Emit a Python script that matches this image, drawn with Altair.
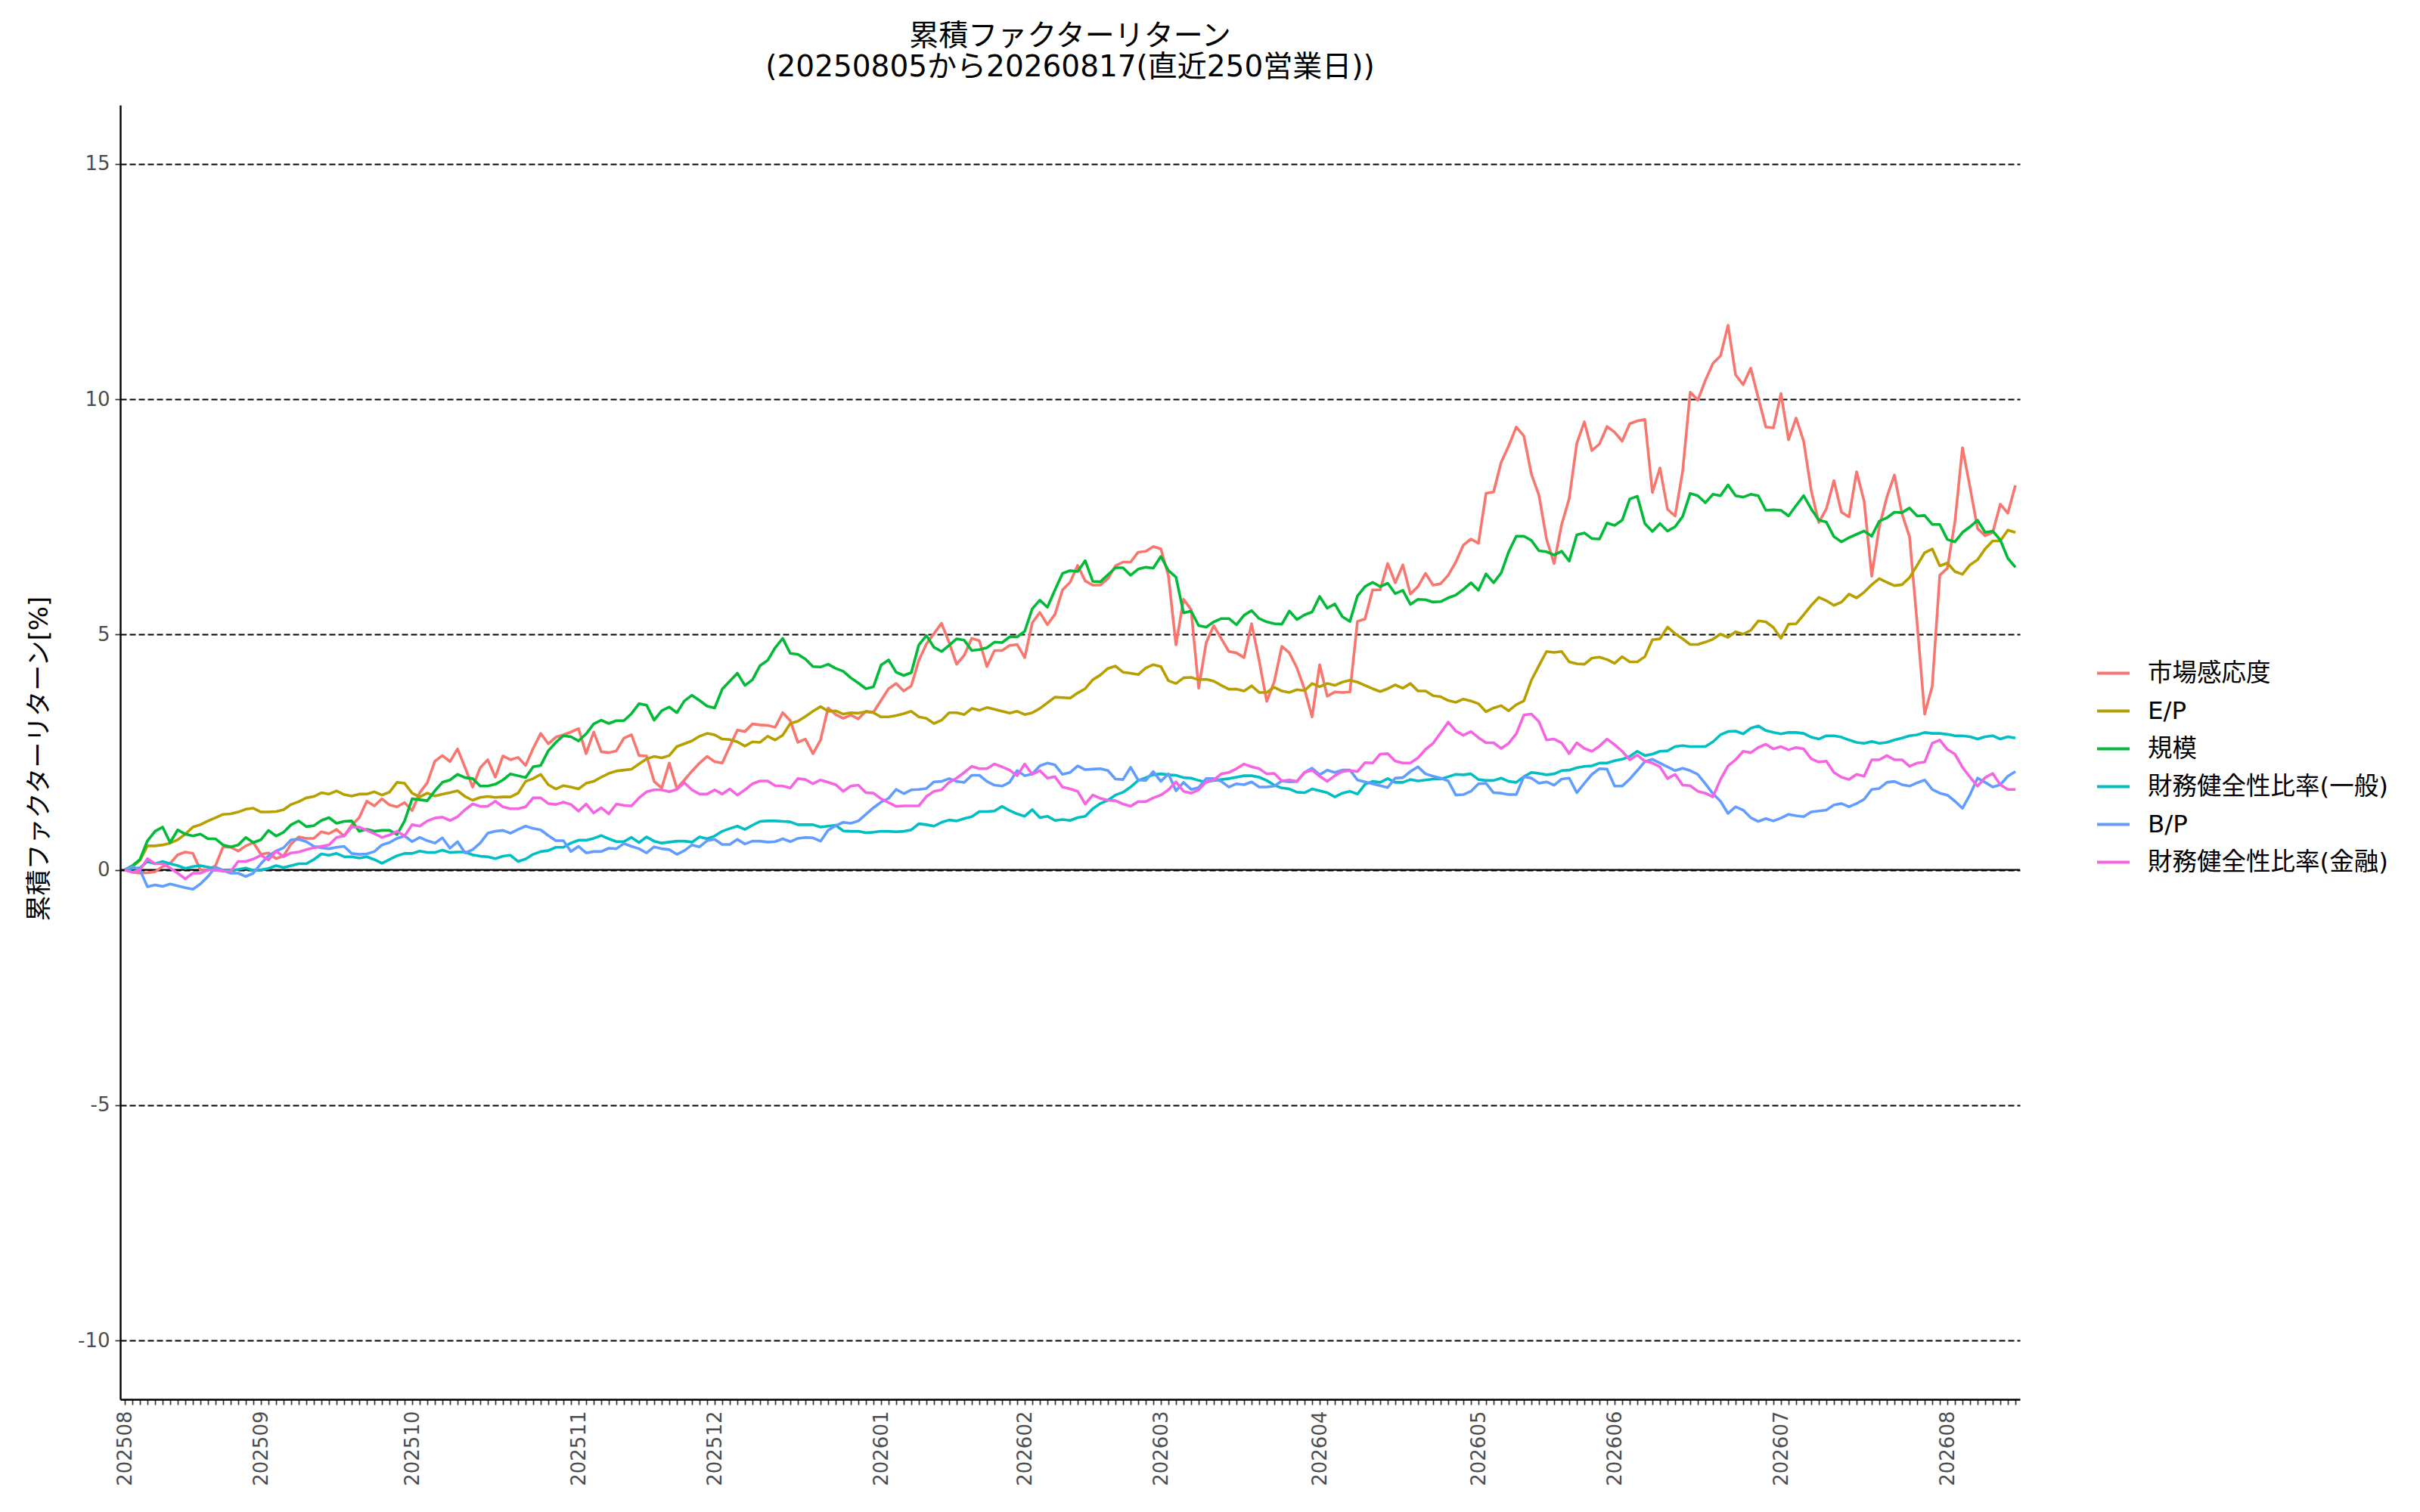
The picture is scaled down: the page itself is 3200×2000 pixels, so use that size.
import altair as alt
import pandas as pd

# ---------------- data ----------------
SERIES = ["市場感応度", "E/P", "規模", "財務健全性比率(一般)", "B/P", "財務健全性比率(金融)"]
COLORS = ["#F8766D", "#B79F00", "#00BA38", "#00BFC4", "#619CFF", "#F564E3"]

JP_HOLIDAYS = ["2025-08-11", "2025-09-15", "2025-09-23", "2025-10-13", "2025-11-03",
               "2025-11-24", "2025-12-31", "2026-01-01", "2026-01-02", "2026-01-12",
               "2026-02-11", "2026-02-23", "2026-03-20", "2026-04-29", "2026-05-04",
               "2026-05-05", "2026-05-06", "2026-07-20", "2026-08-11"]
START_DATE = "2025-08-05"
END_DATE = "2026-08-17"

market = [
    0, -0.05, -0.07, -0.06, -0.04, 0.07, 0.14, 0.32, 0.38, 0.35,
    0.0, 0.0, 0.09, 0.49, 0.48, 0.40, 0.51, 0.58, 0.33, 0.36,
    0.24, 0.30, 0.55, 0.70, 0.67, 0.67, 0.81, 0.77, 0.86, 0.72,
    0.95, 1.11, 1.46, 1.36, 1.51, 1.38, 1.34, 1.43, 1.26, 1.64,
    1.85, 2.31, 2.43, 2.30, 2.57, 2.17, 1.76, 2.17, 2.34, 1.97,
    2.42, 2.34, 2.39, 2.22, 2.58, 2.90, 2.68, 2.82, 2.87, 2.93,
    3.00, 2.47, 2.93, 2.51, 2.49, 2.53, 2.80, 2.87, 2.43, 2.42,
    1.88, 1.74, 2.27, 1.73, 1.91, 2.10, 2.27, 2.41, 2.30, 2.27,
    2.62, 2.97, 2.94, 3.10, 3.08, 3.07, 3.03, 3.34, 3.17, 2.71,
    2.78, 2.47, 2.76, 3.44, 3.30, 3.22, 3.29, 3.21, 3.37, 3.35,
    3.60, 3.85, 3.96, 3.80, 3.91, 4.45, 4.80, 5.02, 5.24, 4.83,
    4.37, 4.56, 4.92, 4.87, 4.32, 4.66, 4.66, 4.77, 4.79, 4.51,
    5.25, 5.47, 5.21, 5.43, 5.95, 6.11, 6.47, 6.14, 6.05, 6.05,
    6.19, 6.46, 6.54, 6.54, 6.75, 6.77, 6.87, 6.82, 6.25, 4.78,
    5.75, 5.53, 3.86, 4.83, 5.19, 4.91, 4.64, 4.61, 4.51, 5.23,
    4.45, 3.58, 4.00, 4.75, 4.61, 4.29, 3.84, 3.25, 4.36, 3.69,
    3.78, 3.77, 3.78, 5.28, 5.33, 5.95, 5.95, 6.51, 6.10, 6.48,
    5.86, 6.02, 6.30, 6.05, 6.08, 6.26, 6.54, 6.90, 7.03, 6.94,
    8.00, 8.03, 8.66, 9.01, 9.41, 9.22, 8.41, 7.96, 7.03, 6.51,
    7.34, 7.89, 9.06, 9.52, 8.91, 9.05, 9.42, 9.30, 9.11, 9.48,
    9.54, 9.57, 8.02, 8.54, 7.66, 7.52, 8.47, 10.15, 9.98, 10.40,
    10.76, 10.92, 11.57, 10.52, 10.31, 10.66, 10.03, 9.41, 9.39, 10.12,
    9.14, 9.60, 9.11, 8.06, 7.38, 7.67, 8.27, 7.60, 7.50, 8.46,
    7.83, 6.24, 7.29, 7.92, 8.39, 7.57, 7.08, 5.25, 3.31, 3.90,
    6.26, 6.41, 7.39, 8.97, 8.13, 7.25, 7.10, 7.17, 7.77, 7.58,
    8.17,
]

ep = [
    0, 0.07, 0.20, 0.51, 0.51, 0.53, 0.57, 0.64, 0.76, 0.91,
    0.96, 1.04, 1.11, 1.18, 1.19, 1.23, 1.29, 1.31, 1.23, 1.23,
    1.24, 1.28, 1.39, 1.45, 1.53, 1.56, 1.64, 1.61, 1.68, 1.60,
    1.57, 1.61, 1.61, 1.66, 1.59, 1.65, 1.86, 1.84, 1.63, 1.55,
    1.63, 1.57, 1.61, 1.64, 1.68, 1.56, 1.48, 1.54, 1.56, 1.54,
    1.55, 1.55, 1.63, 1.88, 1.94, 2.03, 1.81, 1.72, 1.79, 1.76,
    1.72, 1.84, 1.88, 1.97, 2.05, 2.10, 2.12, 2.14, 2.25, 2.36,
    2.41, 2.38, 2.43, 2.62, 2.68, 2.74, 2.84, 2.90, 2.87, 2.78,
    2.77, 2.72, 2.63, 2.72, 2.71, 2.84, 2.76, 2.86, 3.11, 3.16,
    3.26, 3.37, 3.47, 3.37, 3.38, 3.31, 3.34, 3.33, 3.36, 3.34,
    3.25, 3.25, 3.28, 3.32, 3.37, 3.25, 3.22, 3.11, 3.18, 3.34,
    3.34, 3.30, 3.43, 3.39, 3.45, 3.41, 3.37, 3.33, 3.37, 3.30,
    3.34, 3.43, 3.55, 3.67, 3.66, 3.65, 3.76, 3.85, 4.04, 4.14,
    4.28, 4.33, 4.20, 4.18, 4.15, 4.29, 4.36, 4.32, 4.02, 3.96,
    4.08, 4.09, 4.04, 4.05, 4.01, 3.92, 3.84, 3.84, 3.80, 3.91,
    3.77, 3.77, 3.88, 3.80, 3.77, 3.83, 3.81, 3.96, 3.89, 3.96,
    3.92, 3.99, 4.03, 3.99, 3.92, 3.85, 3.79, 3.85, 3.93, 3.86,
    3.96, 3.80, 3.80, 3.70, 3.68, 3.60, 3.56, 3.63, 3.59, 3.53,
    3.36, 3.44, 3.49, 3.38, 3.51, 3.59, 4.03, 4.34, 4.64, 4.62,
    4.64, 4.42, 4.38, 4.37, 4.50, 4.52, 4.47, 4.39, 4.53, 4.42,
    4.42, 4.53, 4.89, 4.91, 5.16, 5.02, 4.91, 4.79, 4.79, 4.84,
    4.90, 5.01, 4.94, 5.06, 5.01, 5.09, 5.29, 5.27, 5.15, 4.92,
    5.22, 5.23, 5.42, 5.62, 5.79, 5.72, 5.62, 5.69, 5.86, 5.78,
    5.90, 6.06, 6.19, 6.11, 6.04, 6.06, 6.21, 6.47, 6.74, 6.82,
    6.46, 6.52, 6.34, 6.28, 6.48, 6.59, 6.82, 6.99, 6.99, 7.22,
    7.17,
]

size = [
    0, 0.09, 0.22, 0.62, 0.82, 0.91, 0.58, 0.85, 0.76, 0.72,
    0.76, 0.66, 0.66, 0.53, 0.49, 0.53, 0.69, 0.58, 0.64, 0.84,
    0.72, 0.80, 0.96, 1.04, 0.92, 0.94, 1.05, 1.11, 0.99, 1.03,
    1.04, 0.82, 0.86, 0.82, 0.84, 0.84, 0.75, 1.04, 1.51, 1.49,
    1.47, 1.68, 1.86, 1.91, 2.03, 1.96, 1.94, 1.78, 1.78, 1.82,
    1.91, 2.04, 2.00, 1.96, 2.19, 2.22, 2.53, 2.71, 2.85, 2.83,
    2.74, 2.89, 3.10, 3.18, 3.11, 3.17, 3.17, 3.32, 3.53, 3.50,
    3.18, 3.38, 3.46, 3.34, 3.59, 3.71, 3.60, 3.48, 3.44, 3.84,
    4.01, 4.18, 3.92, 4.04, 4.34, 4.45, 4.72, 4.92, 4.60, 4.58,
    4.48, 4.32, 4.31, 4.37, 4.28, 4.22, 4.08, 3.97, 3.85, 3.89,
    4.35, 4.46, 4.20, 4.13, 4.19, 4.78, 4.98, 4.73, 4.64, 4.77,
    4.91, 4.88, 4.66, 4.68, 4.72, 4.84, 4.83, 4.95, 4.95, 5.07,
    5.55, 5.73, 5.58, 5.95, 6.30, 6.36, 6.34, 6.57, 6.13, 6.12,
    6.27, 6.42, 6.42, 6.26, 6.39, 6.43, 6.41, 6.66, 6.36, 6.22,
    5.46, 5.50, 5.19, 5.16, 5.27, 5.34, 5.34, 5.21, 5.41, 5.51,
    5.34, 5.27, 5.23, 5.22, 5.50, 5.32, 5.42, 5.48, 5.81, 5.56,
    5.65, 5.38, 5.28, 5.82, 6.02, 6.11, 6.02, 6.09, 5.87, 5.94,
    5.64, 5.75, 5.74, 5.69, 5.70, 5.78, 5.84, 5.96, 6.10, 5.94,
    6.29, 6.10, 6.31, 6.76, 7.09, 7.09, 7.00, 6.78, 6.76, 6.69,
    6.77, 6.56, 7.12, 7.16, 7.04, 7.03, 7.37, 7.32, 7.43, 7.88,
    7.94, 7.36, 7.19, 7.36, 7.20, 7.29, 7.51, 8.00, 7.95, 7.80,
    7.98, 7.95, 8.18, 7.95, 7.92, 7.98, 7.95, 7.64, 7.65, 7.64,
    7.52, 7.74, 7.95, 7.67, 7.43, 7.39, 7.08, 6.97, 7.06, 7.13,
    7.20, 7.09, 7.41, 7.48, 7.60, 7.59, 7.69, 7.52, 7.53, 7.34,
    7.34, 7.02, 6.97, 7.17, 7.29, 7.43, 7.17, 7.20, 7.01, 6.62,
    6.43,
]

health_general = [
    0, 0.03, 0.04, 0.18, 0.13, 0.18, 0.13, 0.09, 0.03, 0.07,
    0.09, 0.06, 0.03, -0.01, -0.01, 0.01, 0.04, -0.01, 0.00, 0.03,
    0.09, 0.05, 0.09, 0.13, 0.13, 0.22, 0.34, 0.31, 0.35, 0.28,
    0.28, 0.25, 0.28, 0.22, 0.14, 0.22, 0.30, 0.35, 0.35, 0.40,
    0.37, 0.37, 0.42, 0.37, 0.38, 0.38, 0.32, 0.29, 0.28, 0.24,
    0.29, 0.31, 0.18, 0.23, 0.33, 0.39, 0.41, 0.48, 0.48, 0.57,
    0.63, 0.63, 0.67, 0.73, 0.66, 0.60, 0.60, 0.69, 0.58, 0.70,
    0.61, 0.57, 0.59, 0.61, 0.61, 0.59, 0.70, 0.66, 0.72, 0.82,
    0.88, 0.93, 0.86, 0.95, 1.03, 1.04, 1.04, 1.03, 1.02, 0.96,
    0.96, 0.96, 0.91, 0.93, 0.95, 0.83, 0.82, 0.82, 0.79, 0.80,
    0.82, 0.82, 0.81, 0.82, 0.85, 0.98, 0.96, 0.93, 1.01, 1.06,
    1.04, 1.09, 1.13, 1.24, 1.24, 1.25, 1.35, 1.26, 1.19, 1.14,
    1.28, 1.11, 1.14, 1.05, 1.07, 1.05, 1.11, 1.14, 1.30, 1.41,
    1.48, 1.59, 1.65, 1.76, 1.90, 1.96, 2.02, 2.04, 2.02, 2.01,
    1.96, 1.95, 1.90, 1.86, 1.90, 1.92, 1.94, 1.97, 2.00, 2.00,
    1.97, 1.90, 1.80, 1.74, 1.72, 1.65, 1.64, 1.72, 1.68, 1.64,
    1.55, 1.63, 1.67, 1.61, 1.82, 1.88, 1.86, 1.94, 1.86, 1.86,
    1.92, 1.89, 1.91, 1.93, 1.93, 1.98, 2.03, 2.02, 2.04, 1.92,
    1.90, 1.90, 1.95, 1.88, 1.86, 1.98, 2.07, 2.05, 2.02, 2.04,
    2.11, 2.12, 2.17, 2.20, 2.21, 2.27, 2.27, 2.32, 2.35, 2.41,
    2.52, 2.43, 2.46, 2.52, 2.53, 2.62, 2.64, 2.62, 2.62, 2.62,
    2.72, 2.87, 2.94, 2.95, 2.89, 3.01, 3.06, 2.96, 2.92, 2.89,
    2.92, 2.92, 2.90, 2.82, 2.78, 2.85, 2.85, 2.82, 2.76, 2.71,
    2.69, 2.73, 2.69, 2.71, 2.76, 2.80, 2.85, 2.87, 2.92, 2.90,
    2.90, 2.88, 2.85, 2.85, 2.83, 2.78, 2.83, 2.85, 2.78, 2.83,
    2.80,
]

bp = [
    0, 0.07, 0.00, -0.36, -0.32, -0.35, -0.30, -0.34, -0.38, -0.41,
    -0.30, -0.14, 0.06, -0.01, -0.07, -0.07, -0.14, -0.07, 0.13, 0.30,
    0.40, 0.47, 0.64, 0.65, 0.60, 0.50, 0.47, 0.45, 0.48, 0.50,
    0.35, 0.33, 0.34, 0.39, 0.53, 0.58, 0.67, 0.72, 0.60, 0.69,
    0.62, 0.57, 0.68, 0.46, 0.60, 0.36, 0.43, 0.57, 0.78, 0.82,
    0.84, 0.78, 0.86, 0.93, 0.88, 0.85, 0.73, 0.62, 0.62, 0.39,
    0.50, 0.36, 0.39, 0.39, 0.46, 0.45, 0.56, 0.50, 0.45, 0.36,
    0.49, 0.45, 0.43, 0.33, 0.41, 0.53, 0.49, 0.62, 0.65, 0.54,
    0.54, 0.65, 0.55, 0.61, 0.61, 0.59, 0.60, 0.66, 0.60, 0.67,
    0.69, 0.68, 0.61, 0.84, 0.94, 1.01, 0.99, 1.04, 1.18, 1.32,
    1.44, 1.52, 1.71, 1.62, 1.70, 1.71, 1.73, 1.87, 1.88, 1.94,
    1.88, 1.86, 2.01, 2.01, 1.88, 1.80, 1.78, 1.86, 2.11, 2.00,
    2.04, 2.21, 2.27, 2.23, 2.03, 2.07, 2.21, 2.13, 2.14, 2.15,
    2.11, 1.93, 1.92, 2.18, 1.91, 1.90, 2.09, 1.88, 2.04, 1.68,
    1.86, 1.71, 1.75, 1.94, 1.94, 1.88, 1.76, 1.83, 1.81, 1.87,
    1.76, 1.76, 1.78, 1.89, 1.87, 1.88, 2.07, 2.16, 2.02, 2.12,
    2.07, 2.12, 2.12, 1.91, 1.87, 1.83, 1.79, 1.75, 1.95, 1.96,
    2.09, 2.19, 2.04, 1.99, 1.95, 1.89, 1.59, 1.60, 1.67, 1.83,
    1.84, 1.64, 1.63, 1.60, 1.60, 1.98, 1.95, 1.84, 1.87, 1.80,
    1.93, 1.95, 1.64, 1.84, 2.03, 2.15, 2.14, 1.78, 1.78, 1.93,
    2.11, 2.30, 2.35, 2.27, 2.19, 2.11, 2.16, 2.11, 2.03, 1.83,
    1.62, 1.46, 1.20, 1.34, 1.27, 1.11, 1.03, 1.09, 1.04, 1.10,
    1.18, 1.15, 1.13, 1.23, 1.25, 1.27, 1.38, 1.41, 1.34, 1.41,
    1.50, 1.71, 1.73, 1.86, 1.88, 1.81, 1.78, 1.85, 1.91, 1.71,
    1.63, 1.59, 1.46, 1.31, 1.60, 1.95, 1.86, 1.76, 1.81, 1.99,
    2.09,
]

health_finance = [
    0, -0.05, 0.00, 0.24, 0.13, 0.13, 0.04, -0.07, -0.19, -0.07,
    -0.07, 0.00, 0.00, -0.03, -0.03, 0.18, 0.18, 0.23, 0.31, 0.21,
    0.40, 0.28, 0.36, 0.38, 0.43, 0.47, 0.50, 0.53, 0.69, 0.72,
    0.91, 0.91, 0.84, 0.77, 0.69, 0.74, 0.82, 0.72, 0.96, 0.93,
    1.04, 1.10, 1.12, 1.05, 1.13, 1.28, 1.40, 1.35, 1.35, 1.46,
    1.34, 1.30, 1.30, 1.34, 1.53, 1.53, 1.41, 1.39, 1.44, 1.39,
    1.25, 1.40, 1.21, 1.32, 1.19, 1.40, 1.37, 1.36, 1.53, 1.66,
    1.70, 1.70, 1.66, 1.71, 1.85, 1.70, 1.61, 1.61, 1.70, 1.61,
    1.72, 1.59, 1.70, 1.83, 1.89, 1.89, 1.79, 1.78, 1.74, 1.94,
    1.92, 1.83, 1.91, 1.86, 1.81, 1.67, 1.78, 1.80, 1.64, 1.63,
    1.51, 1.43, 1.35, 1.36, 1.36, 1.36, 1.56, 1.67, 1.70, 1.86,
    1.95, 2.07, 2.20, 2.15, 2.15, 2.25, 2.19, 2.12, 2.00, 2.25,
    2.03, 2.11, 1.95, 1.98, 1.76, 1.72, 1.67, 1.40, 1.59, 1.52,
    1.48, 1.47, 1.40, 1.35, 1.45, 1.45, 1.53, 1.59, 1.70, 1.87,
    1.67, 1.63, 1.70, 1.87, 1.91, 2.04, 2.07, 2.15, 2.25, 2.19,
    2.15, 2.04, 2.05, 1.89, 1.91, 1.88, 2.07, 2.12, 1.99, 1.88,
    2.00, 2.09, 2.11, 2.09, 2.28, 2.27, 2.46, 2.47, 2.31, 2.27,
    2.27, 2.38, 2.56, 2.69, 2.91, 3.14, 2.95, 2.86, 2.94, 2.81,
    2.70, 2.70, 2.58, 2.69, 2.89, 3.29, 3.31, 3.15, 2.76, 2.78,
    2.70, 2.47, 2.70, 2.58, 2.52, 2.63, 2.78, 2.66, 2.52, 2.34,
    2.44, 2.31, 2.27, 2.19, 1.94, 2.03, 1.80, 1.79, 1.67, 1.63,
    1.55, 1.92, 2.21, 2.34, 2.52, 2.49, 2.60, 2.67, 2.57, 2.62,
    2.55, 2.60, 2.57, 2.36, 2.29, 2.31, 2.07, 1.97, 1.92, 2.03,
    1.99, 2.34, 2.34, 2.43, 2.34, 2.34, 2.20, 2.27, 2.29, 2.69,
    2.76, 2.56, 2.46, 2.18, 1.97, 1.78, 1.96, 2.05, 1.81, 1.71,
    1.71,
]

Y_TICKS = [-10, -5, 0, 5, 10, 15]
TITLE = ["累積ファクターリターン", "(20250805から20260817(直近250営業日))"]
Y_TITLE = "累積ファクターリターン[%]"

# ---------------- build table ----------------
dates = pd.bdate_range(START_DATE, END_DATE, freq="C", holidays=JP_HOLIDAYS)
dstr = [d.strftime("%Y%m%d") for d in dates]
n = min(len(dstr), len(market))
dstr = dstr[:n]

values = [market, ep, size, health_general, bp, health_finance]
rows = []
for name, vals in zip(SERIES, values):
    for i in range(n):
        rows.append({"date": dstr[i], "series": name, "value": vals[i], "order": i})
df = pd.DataFrame(rows)

month_starts = []
prev = None
for s in dstr:
    if s[:6] != prev:
        month_starts.append(s)
        prev = s[:6]
arr = "[" + ",".join("'" + s + "'" for s in month_starts) + "]"
label_expr = f"indexof({arr}, datum.value) >= 0 ? substring(datum.value, 0, 6) : ''"

FONT = "DejaVu Sans, Noto Sans CJK JP, sans-serif"
W, H = 2512, 1712

y_scale = alt.Scale(domain=[-11.25, 16.25], nice=False, zero=False)
y_axis = alt.Axis(title=Y_TITLE, values=Y_TICKS, labelExpr="toString(datum.value)",
                  labelFontSize=26, labelColor="#4D4D4D", labelFont=FONT,
                  labelPadding=7, tickSize=7, tickWidth=1.7, tickColor="#333333",
                  domainColor="black", domainWidth=2.4,
                  grid=True, gridColor="black", gridDash=[8, 4], gridWidth=2.2,
                  titleFont=FONT, titleFontSize=34, titleFontWeight="normal",
                  titleColor="black", titleAngle=270, titleX=-107, titleY=H / 2 + 8,
                  titleAlign="center", titleBaseline="middle")

lines = alt.Chart(df).mark_line(strokeWidth=3.6, strokeJoin="round").encode(
    x=alt.X("date:O", sort="ascending",
            scale=alt.Scale(type="point", padding=0.6),
            axis=alt.Axis(title=None, labelExpr=label_expr, labelAngle=270,
                          labelOverlap=False, labelFontSize=26, labelColor="#4D4D4D",
                          labelFont=FONT, labelPadding=8, tickSize=7, tickWidth=1.7,
                          tickColor="#333333", domainColor="black", domainWidth=2.4,
                          grid=False)),
    y=alt.Y("value:Q", scale=y_scale, axis=y_axis),
    color=alt.Color("series:N", scale=alt.Scale(domain=SERIES, range=COLORS),
                    legend=alt.Legend(title=None, orient="none", legendX=2612, legendY=728,
                                      symbolType="stroke", symbolSize=1849,
                                      symbolStrokeWidth=4, labelFontSize=32.5,
                                      labelFont=FONT, labelColor="black", labelLimit=2000,
                                      labelOffset=22, rowPadding=10, padding=0)),
    detail="series:N",
    order="order:Q",
)

zero = alt.Chart(pd.DataFrame({"value": [0]})).mark_rule(color="black", strokeWidth=2.4).encode(
    y=alt.Y("value:Q", scale=y_scale, axis=y_axis)
)

chart = alt.layer(zero, lines).properties(
    width=W, height=H,
    background="white",
    title=alt.TitleParams(TITLE, font=FONT, fontSize=39, fontWeight="normal",
                          color="black", anchor="middle", offset=30, lineHeight=41),
    padding={"left": 151, "top": 131, "right": 521, "bottom": 130},
    autosize=alt.AutoSizeParams(type="none"),
).configure_view(strokeWidth=0)

chart.save("out.html", embed_options={"renderer": "svg", "actions": False})
